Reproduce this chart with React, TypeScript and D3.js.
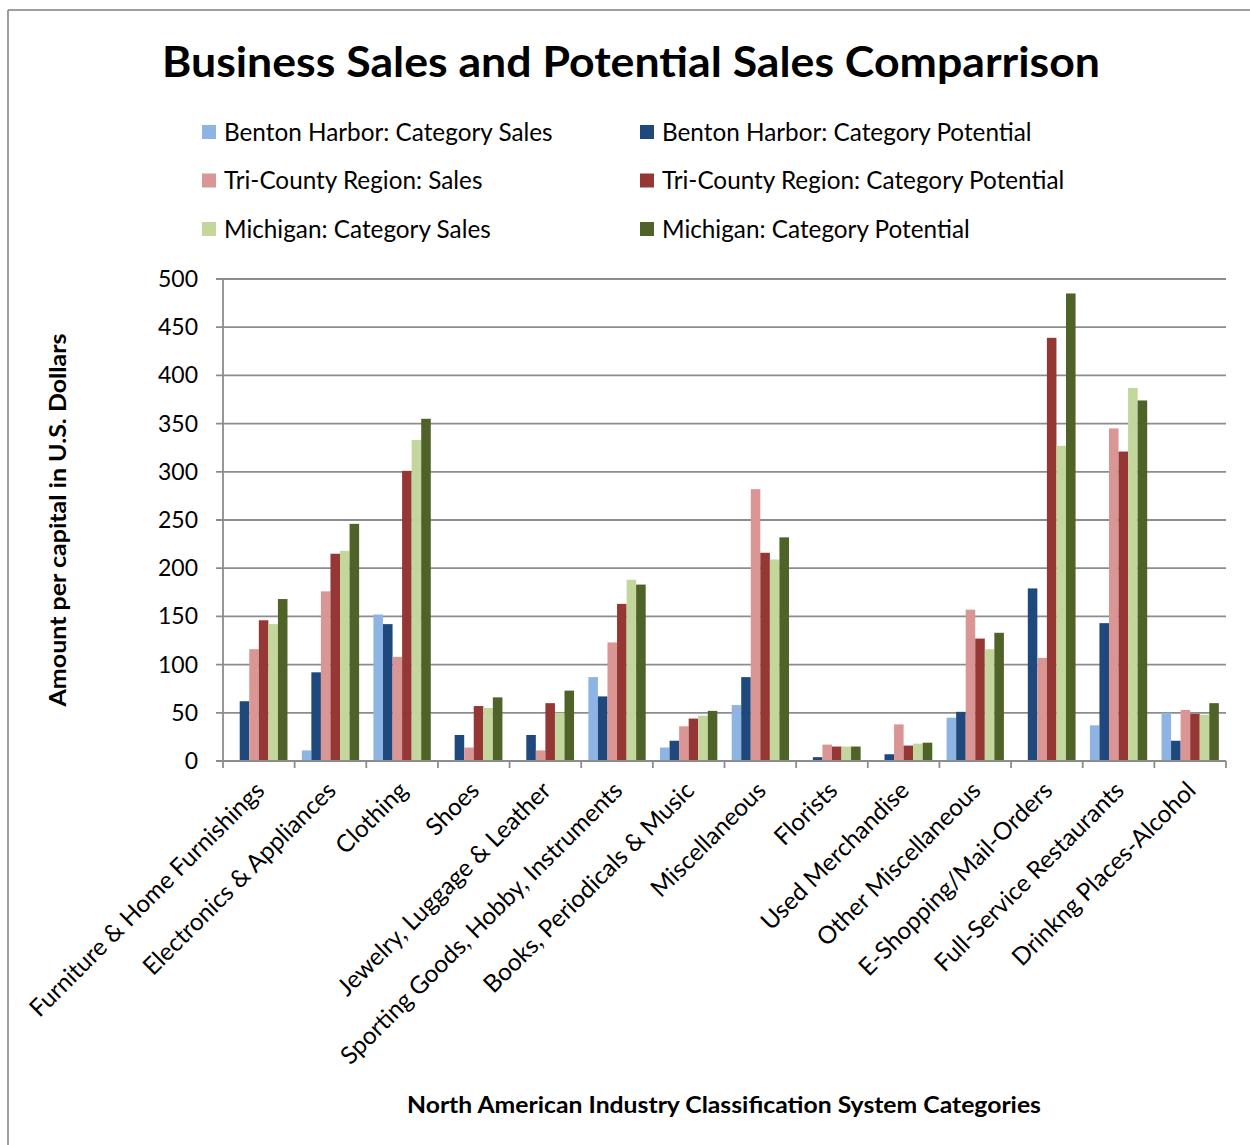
import React from "react";
import * as d3 from "d3";

const categories = [
  "Furniture & Home Furnishings",
  "Electronics & Appliances",
  "Clothing",
  "Shoes",
  "Jewelry, Luggage & Leather",
  "Sporting Goods, Hobby, Instruments",
  "Books, Periodicals & Music",
  "Miscellaneous",
  "Florists",
  "Used Merchandise",
  "Other Miscellaneous",
  "E-Shopping/Mail-Orders",
  "Full-Service Restaurants",
  "Drinkng Places-Alcohol",
];

const seriesNames = [
  "Benton Harbor: Category Sales",
  "Benton Harbor: Category Potential",
  "Tri-County Region: Sales",
  "Tri-County Region: Category Potential",
  "Michigan: Category Sales",
  "Michigan: Category Potential",
];

const seriesColors = ["#8EB4E3", "#1F497D", "#D99694", "#953735", "#C3D69B", "#4F6228"];

const bentonSales = [0, 11, 152, 0, 0, 87, 14, 58, 0, 0, 45, 0, 37, 50];
const bentonPotential = [62, 92, 142, 27, 27, 67, 21, 87, 4, 7, 51, 179, 143, 21];
const triCountySales = [116, 176, 108, 14, 11, 123, 36, 282, 17, 38, 157, 107, 345, 53];
const triCountyPotential = [146, 215, 301, 57, 60, 163, 44, 216, 15, 16, 127, 439, 321, 49];
const michiganSales = [142, 218, 333, 55, 50, 188, 47, 209, 15, 18, 116, 327, 387, 48];
const michiganPotential = [168, 246, 355, 66, 73, 183, 52, 232, 15, 19, 133, 485, 374, 60];

const seriesValues = [
  bentonSales,
  bentonPotential,
  triCountySales,
  triCountyPotential,
  michiganSales,
  michiganPotential,
];

const yTicks = [0, 50, 100, 150, 200, 250, 300, 350, 400, 450, 500];

const FONT = "Lato, 'Open Sans', sans-serif";

export default function App() {
  const W = 1250;
  const H = 1145;
  const left = 223;
  const right = 1226;
  const top = 279;
  const bottom = 761;

  const x = d3.scaleBand<string>().domain(categories).range([left, right]).padding(0);
  const xs = d3
    .scaleBand<number>()
    .domain(d3.range(seriesNames.length))
    .range([0, x.bandwidth()])
    .paddingInner(0)
    .paddingOuter(0.75);
  const y = d3.scaleLinear().domain([0, 500]).range([bottom, top]);

  const gridColor = "#8C8C8C";

  const legendItems = seriesNames.map((name, i) => ({
    name,
    color: seriesColors[i],
    col: i % 2,
    row: Math.floor(i / 2),
  }));

  const boundaries = d3.range(categories.length + 1).map((i) => left + i * x.step());

  return (
    <svg
      width={W}
      height={H}
      style={{ position: "absolute", left: 0, top: 0, background: "#fff" }}
      fontFamily={FONT}
    >
      <rect x={0} y={0} width={W} height={H} fill="#fff" />
      {/* frame */}
      <line x1={8} y1={10} x2={W} y2={10} stroke="#7F7F7F" strokeWidth={1.5} />
      <line x1={8} y1={10} x2={8} y2={H} stroke="#7F7F7F" strokeWidth={1.5} />

      {/* title */}
      <text
        x={631}
        y={77}
        textAnchor="middle"
        fontSize={42}
        fontWeight="bold"
        textLength={938}
        lengthAdjust="spacingAndGlyphs"
        fill="#000"
      >
        Business Sales and Potential Sales Comparrison
      </text>

      {/* legend */}
      {legendItems.map((it) => {
        const lx = it.col === 0 ? 202 : 640;
        const ly = 132 + it.row * 48.5;
        return (
          <g key={it.name}>
            <rect x={lx} y={ly - 7} width={14} height={14} fill={it.color} />
            <text x={lx + 22} y={ly} dy="0.35em" fontSize={24.3} fill="#000">
              {it.name}
            </text>
          </g>
        );
      })}

      {/* gridlines */}
      {yTicks.map((t) => (
        <g key={t}>
          <line x1={left - 7} x2={right} y1={y(t)} y2={y(t)} stroke={gridColor} strokeWidth={1.8} />
          <text x={198} y={y(t)} dy="0.35em" textAnchor="end" fontSize={23} fill="#000">
            {t}
          </text>
        </g>
      ))}

      {/* y axis line */}
      <line x1={left} x2={left} y1={top} y2={bottom} stroke={gridColor} strokeWidth={1.8} />

      {/* bars */}
      {seriesValues.map((vals, si) =>
        vals.map((v, ci) =>
          v > 0 ? (
            <rect
              key={`${si}-${ci}`}
              x={(x(categories[ci]) as number) + (xs(si) as number)}
              y={y(v)}
              width={xs.bandwidth()}
              height={y(0) - y(v)}
              fill={seriesColors[si]}
            />
          ) : null
        )
      )}

      {/* x axis line + ticks */}
      <line x1={left} x2={right} y1={bottom} y2={bottom} stroke={gridColor} strokeWidth={1.8} />
      {boundaries.map((bx, i) => (
        <line key={i} x1={bx} x2={bx} y1={bottom} y2={bottom + 7} stroke={gridColor} strokeWidth={1.8} />
      ))}

      {/* category labels */}
      {categories.map((c) => {
        const cx = (x(c) as number) + x.bandwidth() / 2;
        return (
          <text
            key={c}
            transform={`translate(${cx + 1},${bottom + 25}) rotate(-45)`}
            textAnchor="end"
            dy="0.35em"
            fontSize={24.3}
            fill="#000"
          >
            {c}
          </text>
        );
      })}

      {/* y axis title */}
      <text
        transform={`translate(66,520) rotate(-90)`}
        textAnchor="middle"
        fontSize={22}
        fontWeight="bold"
        textLength={373}
        lengthAdjust="spacingAndGlyphs"
        fill="#000"
      >
        Amount per capital in U.S. Dollars
      </text>

      {/* x axis title */}
      <text
        x={724}
        y={1113}
        textAnchor="middle"
        fontSize={22}
        fontWeight="bold"
        textLength={634}
        lengthAdjust="spacingAndGlyphs"
        fill="#000"
      >
        North American Industry Classification System Categories
      </text>
    </svg>
  );
}
